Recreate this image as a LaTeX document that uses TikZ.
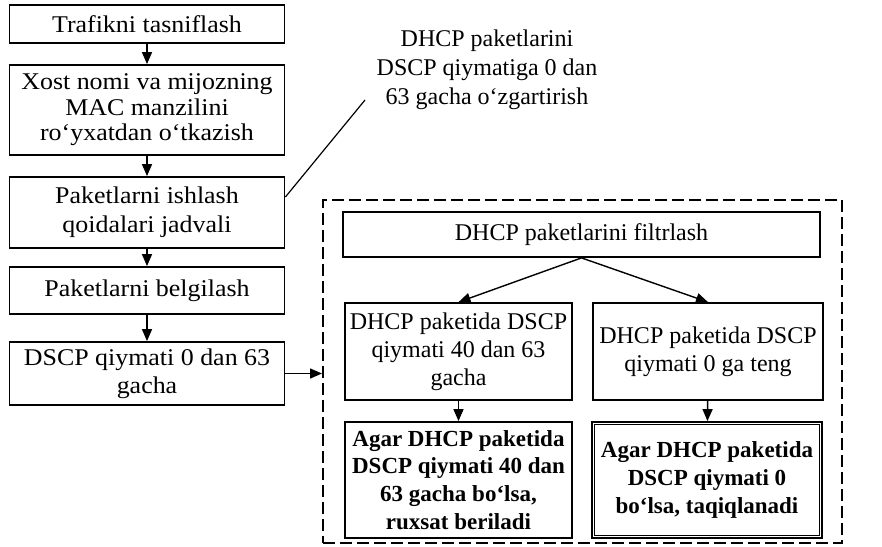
\documentclass[tikz,border=0pt]{standalone}
\usepackage{fontspec}
\setmainfont{Liberation Serif}
\newfontfamily\widefont{Liberation Serif}[FakeStretch=1.08]
\usetikzlibrary{arrows.meta}
\begin{document}
\begin{tikzpicture}[x=1pt,y=-1pt,
  box/.style={draw, line width=1.8pt, inner sep=0pt, align=center},
  lbox/.style={box, minimum width=275pt, font=\widefont\fontsize{24}{27}\selectfont},
  rbox/.style={box, font=\fontsize{24}{28}\selectfont},
  bbox/.style={box, minimum width=227pt, minimum height=116pt, font=\bfseries\fontsize{23}{27.7}\selectfont},
  arr/.style={line width=1.4pt, -{Triangle[length=12pt,width=10pt]}},
  frame/.style={line width=2pt, dash pattern=on 12pt off 5pt}]
\useasboundingbox (0,0) rectangle (882,546);

% left column
\node[lbox, minimum height=38pt] (b1) at (147,24) {Trafikni tasniflash};
\node[lbox, minimum height=90pt, font=\widefont\fontsize{24}{25.5}\selectfont] (b2) at (147,110)
  {Xost nomi va mijozning\\MAC manzilini\\ro‘yxatdan o‘tkazish};
\node[lbox, minimum height=71pt, font=\widefont\fontsize{24}{29}\selectfont] (b3) at (147,212.5)
  {Paketlarni ishlash\\qoidalari jadvali};
\node[lbox, minimum height=47pt] (b4) at (147,290.5) {Paketlarni belgilash};
\node[lbox, minimum height=63pt, font=\widefont\fontsize{24}{28}\selectfont] (b5) at (147,373.5)
  {DSCP qiymati 0 dan 63\\gacha};

\draw[arr] (b1) -- (b2);
\draw[arr] (b2) -- (b3);
\draw[arr] (b3) -- (b4);
\draw[arr] (b4) -- (b5);

% note attached to the rules table
\node[align=center, font=\fontsize{24}{29}\selectfont] (note) at (487,70)
  {DHCP paketlarini\\DSCP qiymatiga 0 dan\\63 gacha o‘zgartirish};
\coordinate (noteend) at (365,100);
\draw[line width=1.2pt] (b3.east |- 0,197) -- (noteend);

% dashed filtering block
\node[frame, draw, minimum width=519pt, minimum height=343pt, inner sep=0pt] (grp) at (582.5,371.5) {};
\draw[arr] (b5.east) -- (b5.east -| grp.west);

\node[rbox, minimum width=477pt, minimum height=45pt] (filt) at (581.5,234.5) {DHCP paketlarini filtrlash};
\node[rbox, minimum width=227pt, minimum height=97pt] (m1) at (458.5,351.5)
  {DHCP paketida DSCP\\qiymati 40 dan 63\\gacha};
\node[rbox, minimum width=230pt, minimum height=97pt] (m2) at (708,351.5)
  {DHCP paketida DSCP\\qiymati 0 ga teng};
\node[bbox] (n1) at (458.5,480)
  {Agar DHCP paketida\\DSCP qiymati 40 dan\\63 gacha bo‘lsa,\\ruxsat beriladi};
\node[bbox, minimum width=230pt] (n2) at (707,480)
  {Agar DHCP paketida\\DSCP qiymati 0\\bo‘lsa, taqiqlanadi};
\draw[line width=0.7pt] ([shift={(3.5,3.5)}]n2.north west) rectangle ([shift={(-3.5,-3.5)}]n2.south east);

\draw[arr] (filt.south) -- (m1.north);
\draw[arr] (filt.south) -- (m2.north);
\draw[arr] (m1) -- (n1);
\draw[arr] (m2) -- (n2);
\end{tikzpicture}
\end{document}
